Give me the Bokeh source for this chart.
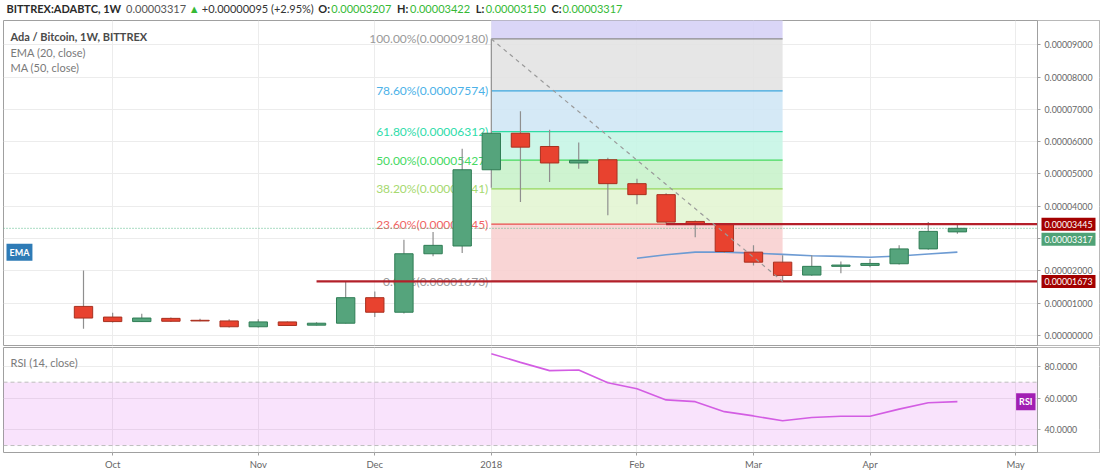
import pandas as pd
from bokeh.plotting import figure
from bokeh.models import (ColumnDataSource, FixedTicker, PrintfTickFormatter,
                          Label, Range1d)
from bokeh.layouts import column
from bokeh.embed import file_html
from bokeh.resources import INLINE
from bokeh.core.properties import value

FONT = "Lato"

# ---------------- data ----------------
weeks = ["2017-09-25", "2017-10-02", "2017-10-09", "2017-10-16", "2017-10-23", "2017-10-30",
         "2017-11-06", "2017-11-13", "2017-11-20", "2017-11-27", "2017-12-04", "2017-12-11",
         "2017-12-18", "2017-12-25", "2018-01-01", "2018-01-08", "2018-01-15", "2018-01-22",
         "2018-01-29", "2018-02-05", "2018-02-12", "2018-02-19", "2018-02-26", "2018-03-05",
         "2018-03-12", "2018-03-19", "2018-03-26", "2018-04-02", "2018-04-09", "2018-04-16",
         "2018-04-23"]
opens = [0.00000900, 0.00000570, 0.00000430, 0.00000530, 0.00000470, 0.00000450,
         0.00000270, 0.00000420, 0.00000320, 0.00000380, 0.00001170, 0.00000720,
         0.00002530, 0.00002770, 0.00005130, 0.00006260, 0.00005850, 0.00005340,
         0.00005440, 0.00004700, 0.00004360, 0.00003530, 0.00003460, 0.00002580,
         0.00002270, 0.00001870, 0.00002140, 0.00002170, 0.00002220, 0.00002680,
         0.00003207]
highs = [0.00002010, 0.00000700, 0.00000670, 0.00000560, 0.00000520, 0.00000500,
         0.00000500, 0.00000430, 0.00000410, 0.00001670, 0.00001360, 0.00002960,
         0.00003200, 0.00005780, 0.00009180, 0.00006940, 0.00006370, 0.00005970,
         0.00005500, 0.00004850, 0.00004400, 0.00003560, 0.00003460, 0.00002790,
         0.00002480, 0.00002480, 0.00002290, 0.00002370, 0.00002790, 0.00003510,
         0.00003422]
lows = [0.00000210, 0.00000400, 0.00000420, 0.00000420, 0.00000440, 0.00000250,
        0.00000250, 0.00000300, 0.00000310, 0.00000370, 0.00000570, 0.00000680,
        0.00002450, 0.00002550, 0.00004570, 0.00004130, 0.00004750, 0.00005160,
        0.00003720, 0.00004060, 0.00003450, 0.00003040, 0.00002550, 0.00002170,
        0.00001673, 0.00001850, 0.00001930, 0.00002110, 0.00002200, 0.00002650,
        0.00003150]
closes = [0.00000540, 0.00000430, 0.00000540, 0.00000440, 0.00000450, 0.00000270,
          0.00000420, 0.00000310, 0.00000380, 0.00001170, 0.00000720, 0.00002530,
          0.00002790, 0.00005130, 0.00006260, 0.00005830, 0.00005340, 0.00005420,
          0.00004700, 0.00004360, 0.00003510, 0.00003440, 0.00002600, 0.00002270,
          0.00001860, 0.00002140, 0.00002180, 0.00002230, 0.00002680, 0.00003222,
          0.00003317]

ema_weeks = ["2018-02-05", "2018-02-12", "2018-02-19", "2018-02-26", "2018-03-05", "2018-03-12",
             "2018-03-19", "2018-03-26", "2018-04-02", "2018-04-09", "2018-04-16", "2018-04-23"]
ema_values = [0.00002390, 0.00002500, 0.00002580, 0.00002580, 0.00002550, 0.00002510,
              0.00002470, 0.00002450, 0.00002420, 0.00002460, 0.00002520, 0.00002580]

rsi_weeks = ["2018-01-01", "2018-01-08", "2018-01-15", "2018-01-22", "2018-01-29", "2018-02-05",
             "2018-02-12", "2018-02-19", "2018-02-26", "2018-03-05", "2018-03-12", "2018-03-19",
             "2018-03-26", "2018-04-02", "2018-04-09", "2018-04-16", "2018-04-23"]
rsi_values = [88.0, 82.5, 77.3, 77.7, 69.6, 65.8, 58.8, 57.7, 51.4, 48.7, 45.6, 47.7,
              48.5, 48.5, 53.0, 57.0, 57.7]
rsi_bands = [30, 70]

fib_start, fib_end = "2018-01-01", "2018-03-12"
fib_pcts = ["100.00%", "78.60%", "61.80%", "50.00%", "38.20%", "23.60%", "0.00%"]
fib_prices = [0.00009180, 0.00007574, 0.00006312, 0.00005427, 0.00004541, 0.00003445, 0.00001673]
fib_ext_top = 0.00013820  # next (161.8%) level, bounds the purple band
ray_starts = ["2018-02-12", "2017-11-20"]
ray_prices = [0.00003445, 0.00001673]

month_labels = ["Oct", "Nov", "Dec", "2018", "Feb", "Mar", "Apr", "May"]
month_weeks = ["2017-10-02", "2017-11-06", "2017-12-04", "2018-01-01", "2018-02-05",
               "2018-03-05", "2018-04-02", "2018-05-07"]
price_ticks = [0.0, 1e-05, 2e-05, 3e-05, 4e-05, 5e-05, 6e-05, 7e-05, 8e-05, 9e-05]
rsi_ticks = [40, 60, 80]

# ---------------- helpers ----------------
t0 = pd.Timestamp(weeks[0])


def widx(d):
    return (pd.Timestamp(d) - t0).days / 7.0


df = pd.DataFrame(dict(week=weeks, open=opens, high=highs, low=lows, close=closes))
df["x"] = [widx(w) for w in weeks]
df["top"] = df[["open", "close"]].max(axis=1)
df["bottom"] = df[["open", "close"]].min(axis=1)
up = ColumnDataSource(df[df.close >= df.open])
down = ColumnDataSource(df[df.close < df.open])
allc = ColumnDataSource(df)

W = 1100
PX_PER_BAR = 29.13
X0 = -(83 - 3) / PX_PER_BAR
XR = Range1d(X0, X0 + 1096 / PX_PER_BAR)
AX_X = X0 + (1037 - 3) / PX_PER_BAR          # where the price scale starts
GRID = "#ececec"
AXIS_TXT = "#666666"
EDGE = "#a0a0a0"
TICK_FS = "8.8px"

# ---------------- header ----------------
h = figure(width=W, height=19, x_range=Range1d(0, W), y_range=Range1d(0, 19),
           output_backend="svg", toolbar_location=None, min_border=0)
h.axis.visible = False
h.grid.visible = False
h.outline_line_color = None
GREEN_TXT = "#35b935"
DARK = "#2a2a2a"
chg = closes[-1] - closes[-2]
pct = chg / closes[-2] * 100
segs = [("BITTREX:ADABTC, 1W", DARK, "bold", 3),
        (f"{closes[-1]:.8f}", "#555555", "normal", 123),
        ("\u25B2", GREEN_TXT, "normal", 186),
        (f"+{chg:.8f} (+{pct:.2f}%)", "#333333", "normal", 199),
        ("O:", DARK, "bold", 316), (f"{opens[-1]:.8f}", GREEN_TXT, "normal", 329),
        ("H:", DARK, "bold", 395), (f"{highs[-1]:.8f}", GREEN_TXT, "normal", 408),
        ("L:", DARK, "bold", 474), (f"{lows[-1]:.8f}", GREEN_TXT, "normal", 484),
        ("C:", DARK, "bold", 550), (f"{closes[-1]:.8f}", GREEN_TXT, "normal", 561)]
for txt, col, sty, hx in segs:
    h.text(x=[hx], y=[11], text=[txt], text_color=col, text_font=value(FONT),
           text_font_style=sty, text_font_size="11px", text_baseline="middle")


def style_price_axis(ax, fmt, ticks):
    ax.ticker = FixedTicker(ticks=ticks)
    ax.formatter = PrintfTickFormatter(format=fmt)
    ax.fixed_location = AX_X
    ax.axis_line_color = EDGE
    ax.major_tick_line_color = EDGE
    ax.major_tick_out = 3
    ax.major_tick_in = 0
    ax.minor_tick_line_color = None
    ax.major_label_text_color = AXIS_TXT
    ax.major_label_text_font = FONT
    ax.major_label_text_font_size = TICK_FS
    ax.major_label_standoff = 4


# ---------------- main price pane ----------------
YR = Range1d(-0.0000031, 0.0000975)
p = figure(width=W, height=327, x_range=XR, y_range=YR,
           y_axis_location="right", output_backend="svg", toolbar_location=None,
           min_border_left=3, min_border_right=1, min_border_top=1, min_border_bottom=1)
p.xaxis.visible = False
mt = FixedTicker(ticks=[widx(m) for m in month_weeks])
p.xaxis.ticker = mt
p.xgrid.ticker = mt
p.ygrid.ticker = FixedTicker(ticks=price_ticks)
style_price_axis(p.yaxis[0], "%.8f", price_ticks)
p.yaxis.major_label_overrides = {3e-05: ""}
p.grid.grid_line_color = GRID
p.outline_line_color = EDGE

# price-scale background (hides grid lines under the scale)
p.quad(left=[AX_X], right=[XR.end], bottom=[YR.start], top=[YR.end],
       fill_color="white", line_color=None)

# fib zones
fl, fr = widx(fib_start), widx(fib_end)
zone_tops = [fib_ext_top] + fib_prices[:-1]
zone_colors = ["#d6d2f6", "#e3e3e3", "#d0e7f5", "#c6f5e6", "#c9f2cb", "#e3f5d3", "#f8d0d0"]
p.quad(left=[fl] * 7, right=[fr] * 7, bottom=fib_prices, top=zone_tops,
       fill_color=zone_colors, fill_alpha=0.9, line_color=None)
fib_line_colors = ["#8c8c8c", "#3aa6dd", "#2ddca3", "#45d85c", "#95d65c", "#e84a4a", "#8c8c8c"]
fib_label_colors = ["#9a9a9a", "#4cb2e8", "#2fdcaa", "#46d964", "#a6d970", "#f06464", "#9a9a9a"]
p.segment(x0=[fl] * 7, x1=[fr] * 7, y0=fib_prices, y1=fib_prices,
          line_color=fib_line_colors, line_width=1.3)
p.text(x=[fl] * 7, y=fib_prices,
       text=[f"{a}({b:.8f})" for a, b in zip(fib_pcts, fib_prices)],
       text_color=fib_label_colors, text_font=value(FONT), text_font_size="12px",
       text_align="right", text_baseline="middle", x_offset=-3)

# current price dotted line
p.segment(x0=[XR.start], x1=[AX_X], y0=[closes[-1]], y1=[closes[-1]],
          line_color="#53b987", line_dash="1 2", line_width=1)

# EMA
p.line(x=[widx(w) for w in ema_weeks], y=ema_values, line_color="#6d9bd3", line_width=1.6)

# candles
p.segment(x0="x", x1="x", y0="high", y1="low", source=allc, line_color="#8f8f8f", line_width=1.2)
BW = 0.63
p.vbar(x="x", width=BW, top="top", bottom="bottom", source=up,
       fill_color="#55a47c", line_color="#2f7d55", line_width=1)
p.vbar(x="x", width=BW, top="top", bottom="bottom", source=down,
       fill_color="#e8422f", line_color="#a8301f", line_width=1)

# horizontal rays
p.segment(x0=[widx(s) for s in ray_starts], x1=[AX_X] * 2, y0=ray_prices, y1=ray_prices,
          line_color="#b3202a", line_width=2.2)

# fib diagonal
p.segment(x0=[fl], x1=[fr], y0=[highs[weeks.index(fib_start)]], y1=[lows[weeks.index(fib_end)]],
          line_color="#9a9a9a", line_dash="4 4", line_width=1.2)

# legend texts
for txt, yy, col, sty in [("Ada / Bitcoin, 1W, BITTREX", 309, "#4a4a4a", "bold"),
                          ("EMA (20, close)", 293, "#7a7a7a", "normal"),
                          ("MA (50, close)", 278, "#7a7a7a", "normal")]:
    p.add_layout(Label(x=7, y=yy, x_units="screen", y_units="screen", text=txt,
                       text_font=FONT, text_font_size="11px", text_font_style=sty,
                       text_color=col, text_baseline="middle"))

p.add_layout(Label(x=XR.start, y=ema_values[-1], x_offset=3, text="EMA", text_font=FONT,
                   text_font_size="9px", text_font_style="bold", text_color="white",
                   background_fill_color="#2e7bb6", text_baseline="middle", padding=3))

# price scale tags
for yy, txt, bg, yo in [(ray_prices[0], f"{ray_prices[0]:.8f}", "#a30000", 0),
                        (closes[-1], f"{closes[-1]:.8f}", "#4fa276", 11),
                        (ray_prices[1], f"{ray_prices[1]:.8f}", "#a30000", 0)]:
    tr = p.text(x=[AX_X], y=[yy], text=[txt], x_offset=4, y_offset=yo,
                text_color="white", text_font=value(FONT), text_font_size=TICK_FS,
                text_baseline="middle", background_fill_color=bg, padding=3)
    tr.level = "overlay"

# ---------------- RSI pane ----------------
RYR = Range1d(25.6, 91.9)
r = figure(width=W, height=126, x_range=XR, y_range=RYR,
           y_axis_location="right", output_backend="svg", toolbar_location=None,
           min_border_left=3, min_border_right=1, min_border_top=1, min_border_bottom=20)
r.xaxis.ticker = mt
r.xgrid.ticker = mt
r.xaxis.major_label_overrides = {widx(m): l for m, l in zip(month_weeks, month_labels)}
r.ygrid.ticker = FixedTicker(ticks=rsi_ticks)
style_price_axis(r.yaxis[0], "%.4f", rsi_ticks)
r.grid.grid_line_color = GRID
r.outline_line_color = EDGE

r.quad(left=[XR.start], right=[AX_X], bottom=[rsi_bands[0]], top=[rsi_bands[1]],
       fill_color="#d63ceb", fill_alpha=0.14, line_color=None)
r.quad(left=[AX_X], right=[XR.end], bottom=[RYR.start], top=[RYR.end],
       fill_color="white", line_color=None)
r.segment(x0=[XR.start] * 2, x1=[AX_X] * 2, y0=rsi_bands, y1=rsi_bands,
          line_color="#bdbdbd", line_dash="4 3", line_width=1)
r.line(x=[widx(w) for w in rsi_weeks], y=rsi_values, line_color="#d35de3", line_width=1.6)
r.add_layout(Label(x=7, y=90, x_units="screen", y_units="screen", text="RSI (14, close)",
                   text_font=FONT, text_font_size="11px", text_color="#7a7a7a",
                   text_baseline="middle"))
r.add_layout(Label(x=AX_X, y=rsi_values[-1], x_offset=-2, text="RSI", text_font=FONT,
                   text_font_size="9px", text_font_style="bold", text_color="white",
                   background_fill_color="#a11fb3", text_baseline="middle",
                   text_align="right", padding=3))

ax = r.xaxis[0]
ax.axis_line_color = None
ax.major_tick_line_color = EDGE
ax.major_tick_out = 3
ax.major_tick_in = 0
ax.minor_tick_line_color = None
ax.major_label_text_color = AXIS_TXT
ax.major_label_text_font = FONT
ax.major_label_text_font_size = "9.5px"
ax.major_label_standoff = 3

layout = column(h, p, r, spacing=0)
open("out.html", "w").write(file_html(layout, INLINE))
